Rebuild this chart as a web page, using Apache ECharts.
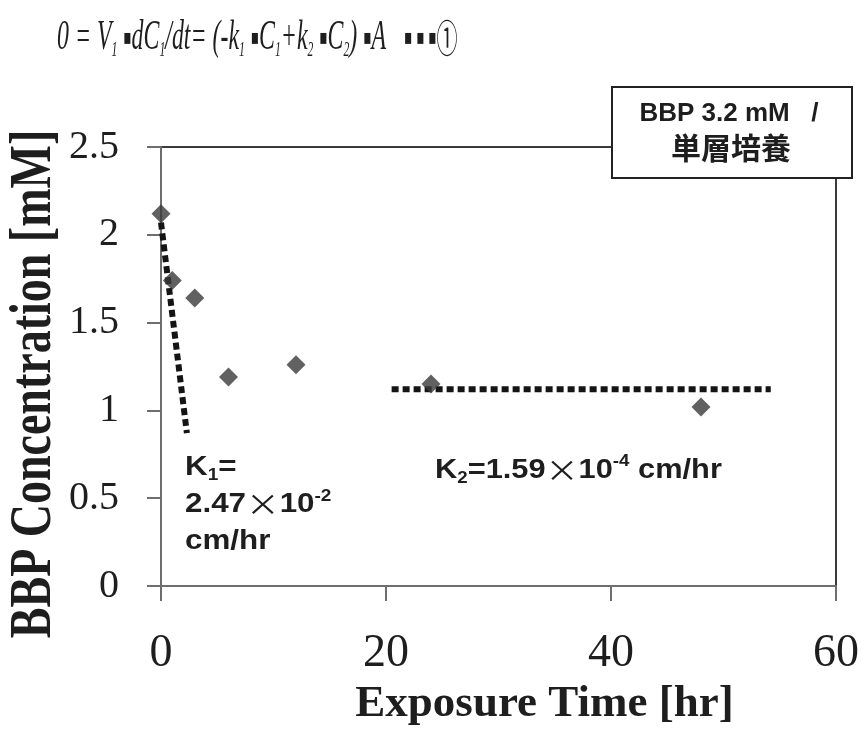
<!DOCTYPE html>
<html>
	<head>
		<title>BBP Concentration</title>
		<meta charset="UTF-8">
		<script src="https://cdn.jsdelivr.net/npm/echarts@6/dist/echarts.min.js" type="text/javascript"></script>
		<style>
			html, body { margin: 0; padding: 0; background: #fff; }
			#chart { width: 861px; height: 730px; }
		</style>
	</head>
	<body>
		<div id="chart"></div>
		<script type="text/javascript">
			// measured points (hr, mM)
			var hours = [0, 1, 3, 6, 12, 24, 48];
			var conc = [2.12, 1.74, 1.64, 1.19, 1.26, 1.15, 1.02];
			// fitted slopes drawn as dotted lines
			var k1LineX = [0, 2.3];
			var k1LineY = [2.07, 0.87];
			var k2LineX = [20.5, 54.2];
			var k2LineY = [1.12, 1.12];
			var xTicks = [0, 20, 40, 60];
			var yTicks = [0, 0.5, 1, 1.5, 2, 2.5];

			var seriesName = 'BBP 3.2 mM   /\n単層培養';
			var serif = '"Liberation Serif", "Times New Roman", serif';
			var sans = '"Liberation Sans", Arial, sans-serif';
			var textColor = '#1e1e1e';

			function pairs(xs, ys) {
				return xs.map(function (x, i) { return [x, ys[i]]; });
			}

			var dotted = {
				color: '#141414',
				width: 6,
				type: [7, 4],
				cap: 'butt'
			};

			var option = {
				animation: false,
				backgroundColor: '#fff',
				grid: {
					left: 161, right: 25, top: 147, bottom: 144,
					outerBoundsMode: 'none',
					containLabel: false,
					show: true,
					borderColor: '#3a3a3a',
					borderWidth: 2
				},
				xAxis: {
					type: 'value',
					min: xTicks[0],
					max: xTicks[xTicks.length - 1],
					interval: 20,
					name: 'Exposure Time [hr]',
					nameLocation: 'middle',
					nameGap: 95,
					nameTextStyle: {
						fontFamily: serif, fontWeight: 'bold', fontSize: 45, color: textColor,
						padding: [0, 0, 0, 92]
					},
					axisLine: { lineStyle: { color: '#6e6e6e', width: 2 } },
					axisTick: { length: 15, lineStyle: { color: '#6e6e6e', width: 2 } },
					axisLabel: { fontFamily: serif, fontSize: 46, color: textColor, margin: 45 },
					splitLine: { show: false }
				},
				yAxis: {
					type: 'value',
					min: yTicks[0],
					max: yTicks[yTicks.length - 1],
					interval: 0.5,
					axisLine: { show: true, lineStyle: { color: '#6e6e6e', width: 2 } },
					axisTick: { show: true, length: 14, lineStyle: { color: '#6e6e6e', width: 2 } },
					axisLabel: { fontFamily: serif, fontSize: 40, color: textColor, margin: 42 },
					splitLine: { show: false }
				},
				graphic: [
					{
						// equation above the chart
						type: 'text', x: 57, y: 38, scaleX: 0.555, z: 100,
						style: {
							text: '0 = V{s|1} {d|▪}dC{s|1}/dt= (-k{s|1} {d|▪}C{s|1}+k{s|2} {d|▪}C{s|2}) {d|▪}A   {d|▪ ▪ ▪}{c|①}',
							fontFamily: serif, fontStyle: 'italic', fontSize: 43, lineHeight: 44,
							fill: textColor, textAlign: 'left', verticalAlign: 'middle',
							rich: {
								s: { fontFamily: serif, fontStyle: 'italic', fontSize: 21, lineHeight: 46, verticalAlign: 'bottom', fill: textColor },
								d: { fontFamily: '"DejaVu Sans"', fontSize: 22, lineHeight: 44, fill: textColor },
								c: { fontFamily: '"Noto Sans CJK JP"', fontSize: 38, lineHeight: 44, fill: textColor }
							}
						}
					},
					{
						// y axis title, stretched like the original
						type: 'text', x: 35, y: 384, rotation: Math.PI / 2, scaleY: 1.3, z: 100,
						style: {
							text: 'BBP Concentration [mM]',
							fontFamily: serif, fontWeight: 'bold', fontSize: 46,
							fill: textColor, textAlign: 'center', verticalAlign: 'middle'
						}
					},
					{
						type: 'rect', z: 100,
						shape: { x: 612, y: 87, width: 240, height: 91 },
						style: { fill: '#fff', stroke: '#222', lineWidth: 2 }
					},
					{
						type: 'text', x: 729, y: 114, z: 101,
						style: {
							text: seriesName.split('\n')[0],
							fontFamily: sans, fontWeight: 'bold', fontSize: 26,
							fill: textColor, textAlign: 'center', verticalAlign: 'middle'
						}
					},
					{
						type: 'text', x: 731, y: 148, z: 101,
						style: {
							text: seriesName.split('\n')[1],
							fontFamily: '"Noto Sans CJK JP"', fontWeight: 'bold', fontSize: 30,
							fill: textColor, textAlign: 'center', verticalAlign: 'middle'
						}
					},
					{
						type: 'text', x: 185, y: 467, scaleX: 1.12, z: 100,
						style: {
							text: 'K{s|1}=',
							fontFamily: sans, fontWeight: 'bold', fontSize: 28, lineHeight: 32,
							fill: textColor, textAlign: 'left', verticalAlign: 'middle',
							rich: { s: { fontFamily: sans, fontWeight: 'bold', fontSize: 17, lineHeight: 34, verticalAlign: 'bottom', fill: textColor } }
						}
					},
					{
						type: 'text', x: 185, y: 504, scaleX: 1.12, z: 100,
						style: {
							text: '2.47{x|×}10{p|-2}',
							fontFamily: sans, fontWeight: 'bold', fontSize: 28, lineHeight: 32,
							fill: textColor, textAlign: 'left', verticalAlign: 'middle',
							rich: {
								p: { fontFamily: sans, fontWeight: 'bold', fontSize: 17, lineHeight: 32, verticalAlign: 'top', fill: textColor },
								x: { fontFamily: '"Noto Sans CJK JP"', fontWeight: 'normal', fontSize: 30, lineHeight: 32, fill: textColor }
							}
						}
					},
					{
						type: 'text', x: 185, y: 541, scaleX: 1.12, z: 100,
						style: {
							text: 'cm/hr',
							fontFamily: sans, fontWeight: 'bold', fontSize: 28,
							fill: textColor, textAlign: 'left', verticalAlign: 'middle'
						}
					},
					{
						type: 'text', x: 435, y: 470, scaleX: 1.1, z: 100,
						style: {
							text: 'K{s|2}=1.59{x|×}10{p|-4} cm/hr',
							fontFamily: sans, fontWeight: 'bold', fontSize: 28, lineHeight: 32,
							fill: textColor, textAlign: 'left', verticalAlign: 'middle',
							rich: {
								s: { fontFamily: sans, fontWeight: 'bold', fontSize: 17, lineHeight: 34, verticalAlign: 'bottom', fill: textColor },
								p: { fontFamily: sans, fontWeight: 'bold', fontSize: 17, lineHeight: 32, verticalAlign: 'top', fill: textColor },
								x: { fontFamily: '"Noto Sans CJK JP"', fontWeight: 'normal', fontSize: 30, lineHeight: 32, fill: textColor }
							}
						}
					}
				],
				series: [
					{
						name: 'k1',
						type: 'line',
						data: pairs(k1LineX, k1LineY),
						showSymbol: false,
						lineStyle: dotted,
						z: 2
					},
					{
						name: 'k2',
						type: 'line',
						data: pairs(k2LineX, k2LineY),
						showSymbol: false,
						lineStyle: dotted,
						z: 2
					},
					{
						name: seriesName,
						type: 'scatter',
						data: pairs(hours, conc),
						symbol: 'diamond',
						symbolSize: 19,
						itemStyle: { color: '#3a3a3a' },
						z: 3
					}
				]
			};

			var chart = echarts.init(document.getElementById('chart'));
			chart.setOption(option);
		</script>
	</body>
</html>
